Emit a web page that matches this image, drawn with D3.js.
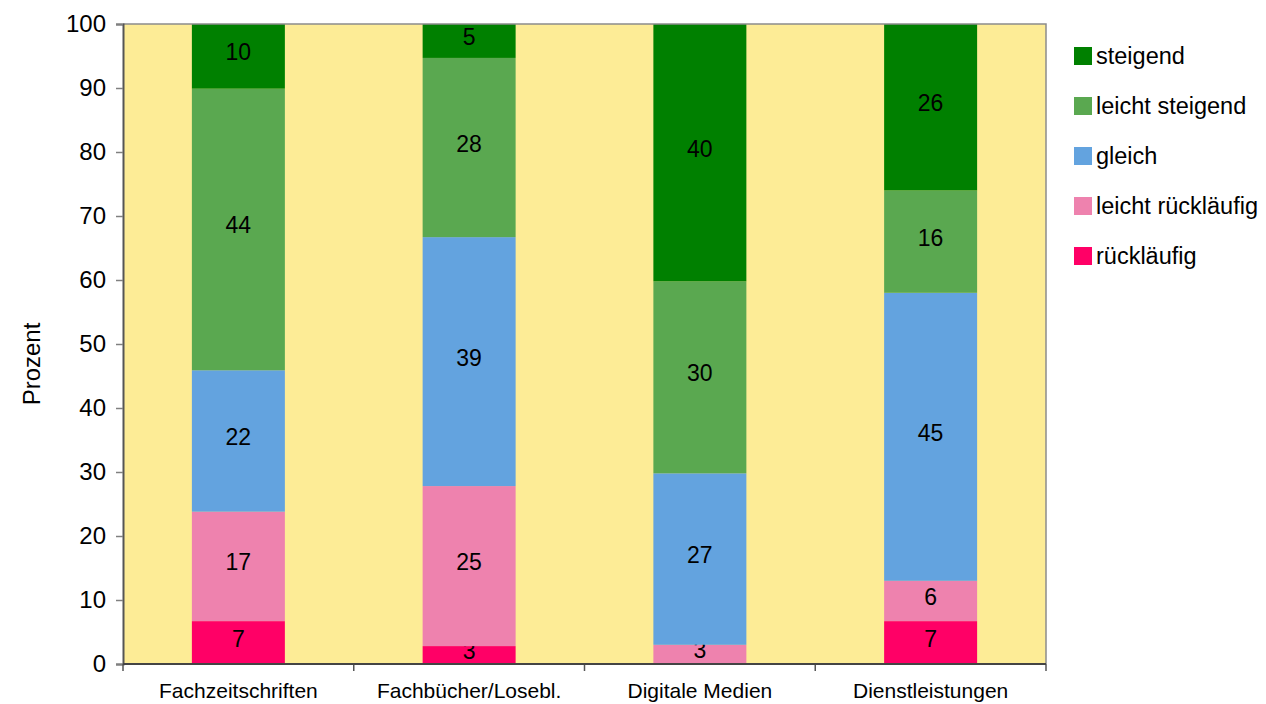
<!DOCTYPE html>
<html>
  <head>
  <meta charset="utf-8">
  <title>Entwicklung</title>
  <style>
    body, html { margin: 0; padding: 0; background: #fff; }
    text { font-family: "Liberation Sans", Arial, sans-serif; fill: #000; }
  </style>
  </head>
  <body>

  <svg id="svg" width="1266" height="704"></svg>

  <script src="https://d3js.org/d3.v7.min.js"></script>
  <script>
    const categories = ['Fachzeitschriften', 'Fachbücher/Losebl.', 'Digitale Medien', 'Dienstleistungen']
    // series from bottom to top
    const seriesNames = ['rückläufig', 'leicht rückläufig', 'gleich', 'leicht steigend', 'steigend']
    const seriesColors = ['#ff0066', '#ee82ae', '#63a3df', '#5aa850', '#008000']
    const ruecklaeufig = [6.7, 2.8, 0, 6.7]
    const leichtRuecklaeufig = [17.1, 25.0, 3.0, 6.3]
    const gleich = [22.1, 38.9, 26.8, 45.0]
    const leichtSteigend = [44.0, 28.0, 30.0, 16.0]
    const steigend = [10.1, 5.3, 40.2, 26.0]
    const yTicks = [0, 10, 20, 30, 40, 50, 60, 70, 80, 90, 100]

    const seriesValues = [ruecklaeufig, leichtRuecklaeufig, gleich, leichtSteigend, steigend]

    const margin = { top: 24, left: 123 }
    const width = 923
    const height = 640

    const table = categories.map((c, i) => {
      const row = { cat: c }
      seriesNames.forEach((s, j) => { row[s] = seriesValues[j][i] })
      return row
    })
    const stacked = d3.stack().keys(seriesNames)(table)

    const xscale = d3.scaleBand()
      .domain(categories)
      .range([margin.left, margin.left + width])
      .paddingInner(0.597)
      .paddingOuter(0.2985)

    const xouter = d3.scaleBand().domain(categories).range([margin.left, margin.left + width])

    const yscale = d3.scaleLinear()
      .domain([0, 100])
      .range([margin.top + height, margin.top])

    const svg = d3.select('#svg')

    // plot background
    svg.append('rect')
      .attr('x', margin.left).attr('y', margin.top)
      .attr('width', width).attr('height', height)
      .attr('fill', '#fdec96')

    const layers = svg.append('g').selectAll('g')
      .data(stacked)
      .enter().append('g')
      .attr('fill', (d, i) => seriesColors[i])

    layers.selectAll('rect')
      .data(d => d)
      .enter().append('rect')
      .attr('x', d => xscale(d.data.cat))
      .attr('y', d => yscale(d[1]))
      .attr('width', xscale.bandwidth())
      .attr('height', d => yscale(d[0]) - yscale(d[1]))

    layers.selectAll('text')
      .data(d => d.filter(p => p[1] - p[0] > 0.5))
      .enter().append('text')
      .attr('x', d => xscale(d.data.cat) + xscale.bandwidth() / 2)
      .attr('y', d => (yscale(d[0]) + yscale(d[1])) / 2 - 4)
      .attr('dy', '0.35em')
      .attr('text-anchor', 'middle')
      .attr('font-size', 23)
      .text(d => Math.round(d[1] - d[0]))

    // top and right border
    svg.append('path')
      .attr('d', `M${margin.left},${margin.top}H${margin.left + width}V${margin.top + height}`)
      .attr('fill', 'none').attr('stroke', '#8c8c8c').attr('stroke-width', 1.5)

    const leftAxis = d3.axisLeft(yscale).tickValues(yTicks).tickSize(7).tickPadding(10)
    const gy = svg.append('g')
      .attr('transform', `translate(${margin.left}, 0)`)
      .call(leftAxis)
    gy.select('.domain').attr('stroke', '#555').attr('stroke-width', 2)
    gy.selectAll('.tick line').attr('stroke', '#808080').attr('stroke-width', 1.5)
    gy.selectAll('.tick text').attr('font-size', 24).attr('font-family', '"Liberation Sans", Arial, sans-serif').attr('fill', '#000')

    const bottomAxis = d3.axisBottom(xscale).tickSize(0).tickPadding(19)
    const gx = svg.append('g')
      .attr('transform', `translate(0, ${margin.top + height})`)
      .call(bottomAxis)
    gx.select('.domain').remove()
    gx.selectAll('.tick text').attr('font-size', 21).attr('font-family', '"Liberation Sans", Arial, sans-serif').attr('fill', '#000')

    // category separators and axis line
    const bounds = categories.map(c => xouter(c)).concat([margin.left + width])
    gx.selectAll('.sep')
      .data(bounds)
      .enter().append('line')
      .attr('x1', d => d).attr('x2', d => d)
      .attr('y1', 0).attr('y2', 7)
      .attr('stroke', '#555').attr('stroke-width', 1.5)
    gx.append('line')
      .attr('x1', margin.left).attr('x2', margin.left + width)
      .attr('stroke', '#444').attr('stroke-width', 2)

    svg.append('text')
      .attr('transform', `translate(40, ${margin.top + height / 2 + 20}) rotate(-90)`)
      .attr('text-anchor', 'middle')
      .attr('font-size', 24)
      .text('Prozent')

    // legend, top to bottom
    const legendNames = seriesNames.slice().reverse()
    const legendColors = seriesColors.slice().reverse()
    const legend = svg.append('g').selectAll('g')
      .data(legendNames)
      .enter().append('g')
      .attr('transform', (d, i) => `translate(1074, ${47 + i * 50})`)
    legend.append('rect')
      .attr('width', 18).attr('height', 18)
      .attr('fill', (d, i) => legendColors[i])
    legend.append('text')
      .attr('x', 22).attr('y', 9).attr('dy', '0.35em')
      .attr('font-size', 23.5)
      .text(d => d)
  </script>
  </body>
</html>
